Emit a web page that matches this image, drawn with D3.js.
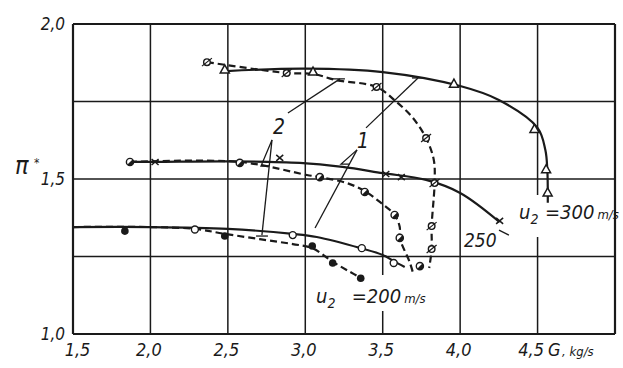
<!DOCTYPE html>
<html>
<head>
<meta charset="utf-8">
<script src="https://cdn.jsdelivr.net/npm/d3@7"></script>
<style>
  body { margin: 0; background: #fff; }
  svg text { font-family: "Liberation Sans Narrow", "DejaVu Sans Condensed", "Liberation Sans", sans-serif; font-style: italic; fill: #1a1a1a; }
</style>
</head>
<body>
<div id="chart"></div>
<script>
// axis ticks and grid
const xGrid = [1.5, 2.0, 2.5, 3.0, 3.5, 4.0, 4.5, 5.0];
const yGrid = [1.0, 1.25, 1.5, 1.75, 2.0];
const xTickLabels = [1.5, 2.0, 2.5, 3.0, 3.5, 4.0, 4.5];
const yTickLabels = [1.0, 1.5, 2.0];

// u2 = 300 m/s
const line300a = [[2.49, 1.848], [3.0, 1.856], [3.5, 1.845], [4.0, 1.80], [4.25, 1.755], [4.5, 1.665], [4.55, 1.594], [4.563, 1.529], [4.566, 1.423]];
const pts300a = [[2.48, 1.852], [3.05, 1.845], [3.96, 1.806], [4.48, 1.66], [4.555, 1.53], [4.565, 1.455]];
const line300b = [[2.365, 1.877], [2.88, 1.842], [3.05, 1.839], [3.2, 1.819], [3.46, 1.797], [3.59, 1.748], [3.69, 1.70], [3.78, 1.632], [3.83, 1.561], [3.835, 1.487], [3.816, 1.348], [3.816, 1.274], [3.80, 1.213]];
const pts300b = [[2.365, 1.877], [2.88, 1.842], [3.46, 1.797], [3.78, 1.632], [3.835, 1.487], [3.816, 1.348], [3.816, 1.274]];

// u2 = 250 m/s
const line250a = [[1.868, 1.555], [2.03, 1.555], [2.5, 1.557], [2.965, 1.552], [3.24, 1.539], [3.5, 1.519], [3.78, 1.497], [4.0, 1.455], [4.255, 1.361]];
const pts250a = [[2.03, 1.555], [2.835, 1.568], [3.52, 1.516], [3.62, 1.506], [4.255, 1.365]];
const line250b = [[1.868, 1.555], [2.577, 1.555], [3.01, 1.513], [3.094, 1.506], [3.268, 1.487], [3.384, 1.461], [3.481, 1.426], [3.577, 1.384], [3.61, 1.345], [3.61, 1.31], [3.674, 1.232], [3.694, 1.2]];
const pts250b = [[1.868, 1.555], [2.577, 1.552], [3.094, 1.506], [3.384, 1.458], [3.577, 1.384], [3.61, 1.31], [3.74, 1.219]];

// u2 = 200 m/s
const line200a = [[1.5, 1.345], [2.003, 1.345], [2.5, 1.339], [2.919, 1.323], [3.074, 1.313], [3.358, 1.277], [3.5, 1.255], [3.571, 1.235], [3.642, 1.216]];
const pts200a = [[2.287, 1.337], [2.919, 1.319], [3.365, 1.277], [3.571, 1.229]];
const line200b = [[1.5, 1.345], [2.0, 1.345], [2.287, 1.339], [2.48, 1.323], [2.706, 1.306], [2.919, 1.29], [3.045, 1.277], [3.18, 1.232], [3.29, 1.2], [3.358, 1.181]];
const pts200b = [[1.835, 1.332], [2.48, 1.316], [3.045, 1.284], [3.177, 1.229], [3.358, 1.18]];

// leader lines for labels "1" and "2"
const leaders = [
  [[2.888, 1.713], [3.224, 1.823]],
  [[3.172, 1.823], [3.256, 1.823]],
  [[2.785, 1.626], [2.714, 1.542], [2.766, 1.542]],
  [[2.785, 1.626], [2.72, 1.319]],
  [[2.682, 1.316], [2.759, 1.316]],
  [[3.392, 1.665], [3.728, 1.826]],
  [[3.689, 1.826], [3.767, 1.826]],
  [[3.334, 1.594], [3.231, 1.548], [3.285, 1.548]],
  [[3.334, 1.594], [3.063, 1.342]],
  [[4.251, 1.335], [4.315, 1.319]]
];

const W = 623, H = 368;
const ink = "#1a1a1a";

const svg = d3.select("#chart").append("svg")
  .attr("width", W)
  .attr("height", H);

const x = d3.scaleLinear().domain([1.5, 5.0]).range([73, 615]);
const y = d3.scaleLinear().domain([1.0, 2.0]).range([334, 24]);

// grid
svg.append("g").selectAll("line")
  .data(xGrid).enter().append("line")
  .attr("x1", d => x(d)).attr("x2", d => x(d))
  .attr("y1", y(1.0)).attr("y2", y(2.0))
  .attr("stroke", ink)
  .attr("stroke-width", (d, i) => (i === 0 || i === xGrid.length - 1 ? 2.2 : 1.5));

svg.append("g").selectAll("line")
  .data(yGrid).enter().append("line")
  .attr("x1", x(1.5)).attr("x2", x(5.0))
  .attr("y1", d => y(d)).attr("y2", d => y(d))
  .attr("stroke", ink)
  .attr("stroke-width", (d, i) => (i === 0 || i === yGrid.length - 1 ? 2.2 : 1.5));

// gaps in the grid behind the speed labels
svg.append("rect").attr("x", x(4.5) - 4).attr("y", 195).attr("width", 8).attr("height", 42).attr("fill", "#fff");
svg.append("rect").attr("x", x(3.5) - 4).attr("y", 275).attr("width", 8).attr("height", 36).attr("fill", "#fff");

// axes labels
const fmt = d => d3.format(".1f")(d).replace(".", ",");

const xAxis = d3.axisBottom(x).tickValues(xTickLabels).tickFormat(fmt).tickSize(0);
const gx = svg.append("g")
  .attr("transform", "translate(0," + y(1.0) + ")")
  .call(xAxis);
gx.select(".domain").remove();
gx.selectAll("text")
  .attr("y", 9)
  .attr("dy", "0.71em")
  .attr("dx", d => (d === 1.5 ? 4 : d === 4.5 ? -7 : -2))
  .style("font-size", "18px")
  .style("font-family", null);

const yAxis = d3.axisLeft(y).tickValues(yTickLabels).tickFormat(fmt).tickSize(0);
const gy = svg.append("g")
  .attr("transform", "translate(" + x(1.5) + ",0)")
  .call(yAxis);
gy.select(".domain").remove();
gy.selectAll("text")
  .attr("x", -8)
  .attr("dy", "0.35em")
  .style("font-size", "17px")
  .style("font-family", null);

// G , kg/s
svg.append("text").attr("x", 548).attr("y", 356).style("font-size", "18px").text("G");
svg.append("text").attr("x", 562).attr("y", 356).style("font-size", "13px").text(", kg/s");

// pi*
svg.append("text").attr("x", 15).attr("y", 174).style("font-size", "25px").text("π");
svg.append("text").attr("x", 34).attr("y", 167).style("font-size", "12px").text("*");

// curves
const line = d3.line().x(d => x(d[0])).y(d => y(d[1])).curve(d3.curveCatmullRom.alpha(0.5));

function drawLine(data, dashed) {
  svg.append("path")
    .datum(data)
    .attr("d", line)
    .attr("fill", "none")
    .attr("stroke", ink)
    .attr("stroke-width", 2.2)
    .attr("stroke-dasharray", dashed ? "7,4" : null);
}

drawLine(line300a, false);
drawLine(line300b, true);
drawLine(line250a, false);
drawLine(line250b, true);
drawLine(line200a, false);
drawLine(line200b, true);

// leaders
const thin = d3.line().x(d => x(d[0])).y(d => y(d[1]));
svg.append("g").selectAll("path")
  .data(leaders).enter().append("path")
  .attr("d", thin)
  .attr("fill", "none")
  .attr("stroke", ink)
  .attr("stroke-width", 1.3);

// markers
function markers(data, kind) {
  const g = svg.append("g").selectAll("g")
    .data(data).enter().append("g")
    .attr("transform", d => "translate(" + x(d[0]) + "," + y(d[1]) + ")");
  if (kind === "tri") {
    g.append("path").attr("d", "M0,-5 L4.5,3 L-4.5,3 Z")
      .attr("fill", "#fff").attr("stroke", ink).attr("stroke-width", 1.5);
  } else if (kind === "cross") {
    g.append("path").attr("d", "M-3.5,-3 L3.5,3 M-3.5,3 L3.5,-3")
      .attr("stroke", ink).attr("stroke-width", 1.5);
  } else if (kind === "slash") {
    g.append("circle").attr("r", 3.3)
      .attr("fill", "#fff").attr("stroke", ink).attr("stroke-width", 1.4);
    g.append("path").attr("d", "M-5,4 L5,-4")
      .attr("stroke", ink).attr("stroke-width", 1.2);
  } else if (kind === "open") {
    g.append("circle").attr("r", 3.5)
      .attr("fill", "#fff").attr("stroke", ink).attr("stroke-width", 1.4);
  } else if (kind === "filled") {
    g.append("circle").attr("r", 3.8).attr("fill", ink);
  } else if (kind === "half") {
    g.append("circle").attr("r", 3.6)
      .attr("fill", "#fff").attr("stroke", ink).attr("stroke-width", 1.4);
    g.append("path").attr("d", d3.arc()({ innerRadius: 0, outerRadius: 3.6, startAngle: Math.PI * 0.25, endAngle: Math.PI * 1.25 }))
      .attr("fill", ink);
  }
}

markers(pts300a, "tri");
markers(pts300b, "slash");
markers(pts250a, "cross");
markers(pts250b, "half");
markers(pts200a, "open");
markers(pts200b, "filled");

// curve labels
svg.append("text").attr("x", x(2.83)).attr("y", y(1.645)).attr("text-anchor", "middle").style("font-size", "21px").text("2");
svg.append("text").attr("x", x(3.373)).attr("y", y(1.60)).attr("text-anchor", "middle").style("font-size", "21px").text("1");
svg.append("text").attr("x", x(4.025)).attr("y", y(1.281)).style("font-size", "19px").text("250");

function speedLabel(ux, vx, vy, val) {
  const t = svg.append("text").attr("x", x(ux)).attr("y", y(vy)).style("font-size", "20px");
  t.append("tspan").text("u");
  t.append("tspan").attr("dy", 5).style("font-size", "14px").text("2");
  const t2 = svg.append("text").attr("x", x(vx)).attr("y", y(vy)).style("font-size", "20px");
  t2.append("tspan").text("=" + val);
  t2.append("tspan").attr("dx", 3).style("font-size", "13px").text("m/s");
}
speedLabel(4.38, 4.548, 1.371, "300");
speedLabel(3.069, 3.30, 1.10, "200");
</script>
</body>
</html>
